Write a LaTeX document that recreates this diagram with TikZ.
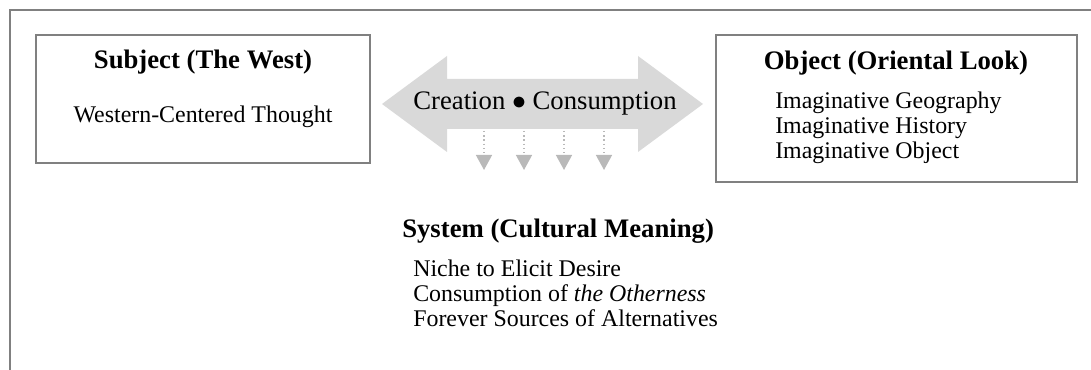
\documentclass[tikz,border=0pt]{standalone}
\usepackage{fontspec}
\setmainfont{Liberation Serif}
\usetikzlibrary{arrows.meta}

\begin{document}
\begin{tikzpicture}[
    frame/.style={draw=gray, line width=1.2pt},
    box/.style={draw=gray, line width=1.2pt, rectangle, inner sep=0pt},
    head/.style={font=\fontsize{19}{21}\selectfont\bfseries, inner sep=0pt},
    body/.style={font=\fontsize{17}{17.8}\selectfont, inner sep=0pt, align=left},
    flow/.style={draw=gray!55, line width=1pt, dotted, -{Triangle[width=0.4cm,length=0.375cm,fill=gray!55]}}
  ]
  \useasboundingbox (0,0) rectangle (27.275,9.25);
  \draw[frame] (0.25,-0.2) -- (0.25,9.0) -- (27.5,9.0);

  \node[box, minimum width=8.35cm, minimum height=3.2cm] (subj) at (5.075,6.775) {};
  \node[head, anchor=base] (subjtitle) at (5.075,7.525) {Subject (The West)};
  \node[body, anchor=base] (subjtext) at (5.075,6.175) {Western-Centered Thought};

  \node[box, minimum width=9.025cm, minimum height=3.675cm] (obj) at (22.4125,6.5375) {};
  \node[head, anchor=base] (objtitle) at (22.4,7.5) {Object (Oriental Look)};
  \node[body, anchor=base west] (objtext) at (19.375,5.275) {Imaginative Geography\\Imaginative History\\Imaginative Object};

  \fill[gray!30] (9.55,6.65) -- (11.175,7.85) -- (11.175,7.275) -- (15.95,7.275) -- (15.95,7.85)
    -- (17.575,6.65) -- (15.95,5.45) -- (15.95,6.025) -- (11.175,6.025) -- (11.175,5.45) -- cycle;
  \node[font=\fontsize{19}{21}\selectfont, inner sep=0pt, anchor=base] (cc) at (13.625,6.5) {Creation \scalebox{1.15}{$\bullet$} Consumption};

  \foreach \i/\x in {1/12.1,2/13.1,3/14.1,4/15.1} {
    \coordinate (f\i) at (\x,5.975);
    \coordinate (t\i) at (\x,5.0);
    \draw[flow] (f\i) -- (t\i);
  }

  \node[head, anchor=base west] (systitle) at (10.05,3.3) {System (Cultural Meaning)};
  \node[body, anchor=base west] (systext) at (10.325,1.075) {Niche to Elicit Desire\\Consumption of \textit{the Otherness}\\Forever Sources of Alternatives};
\end{tikzpicture}
\end{document}
